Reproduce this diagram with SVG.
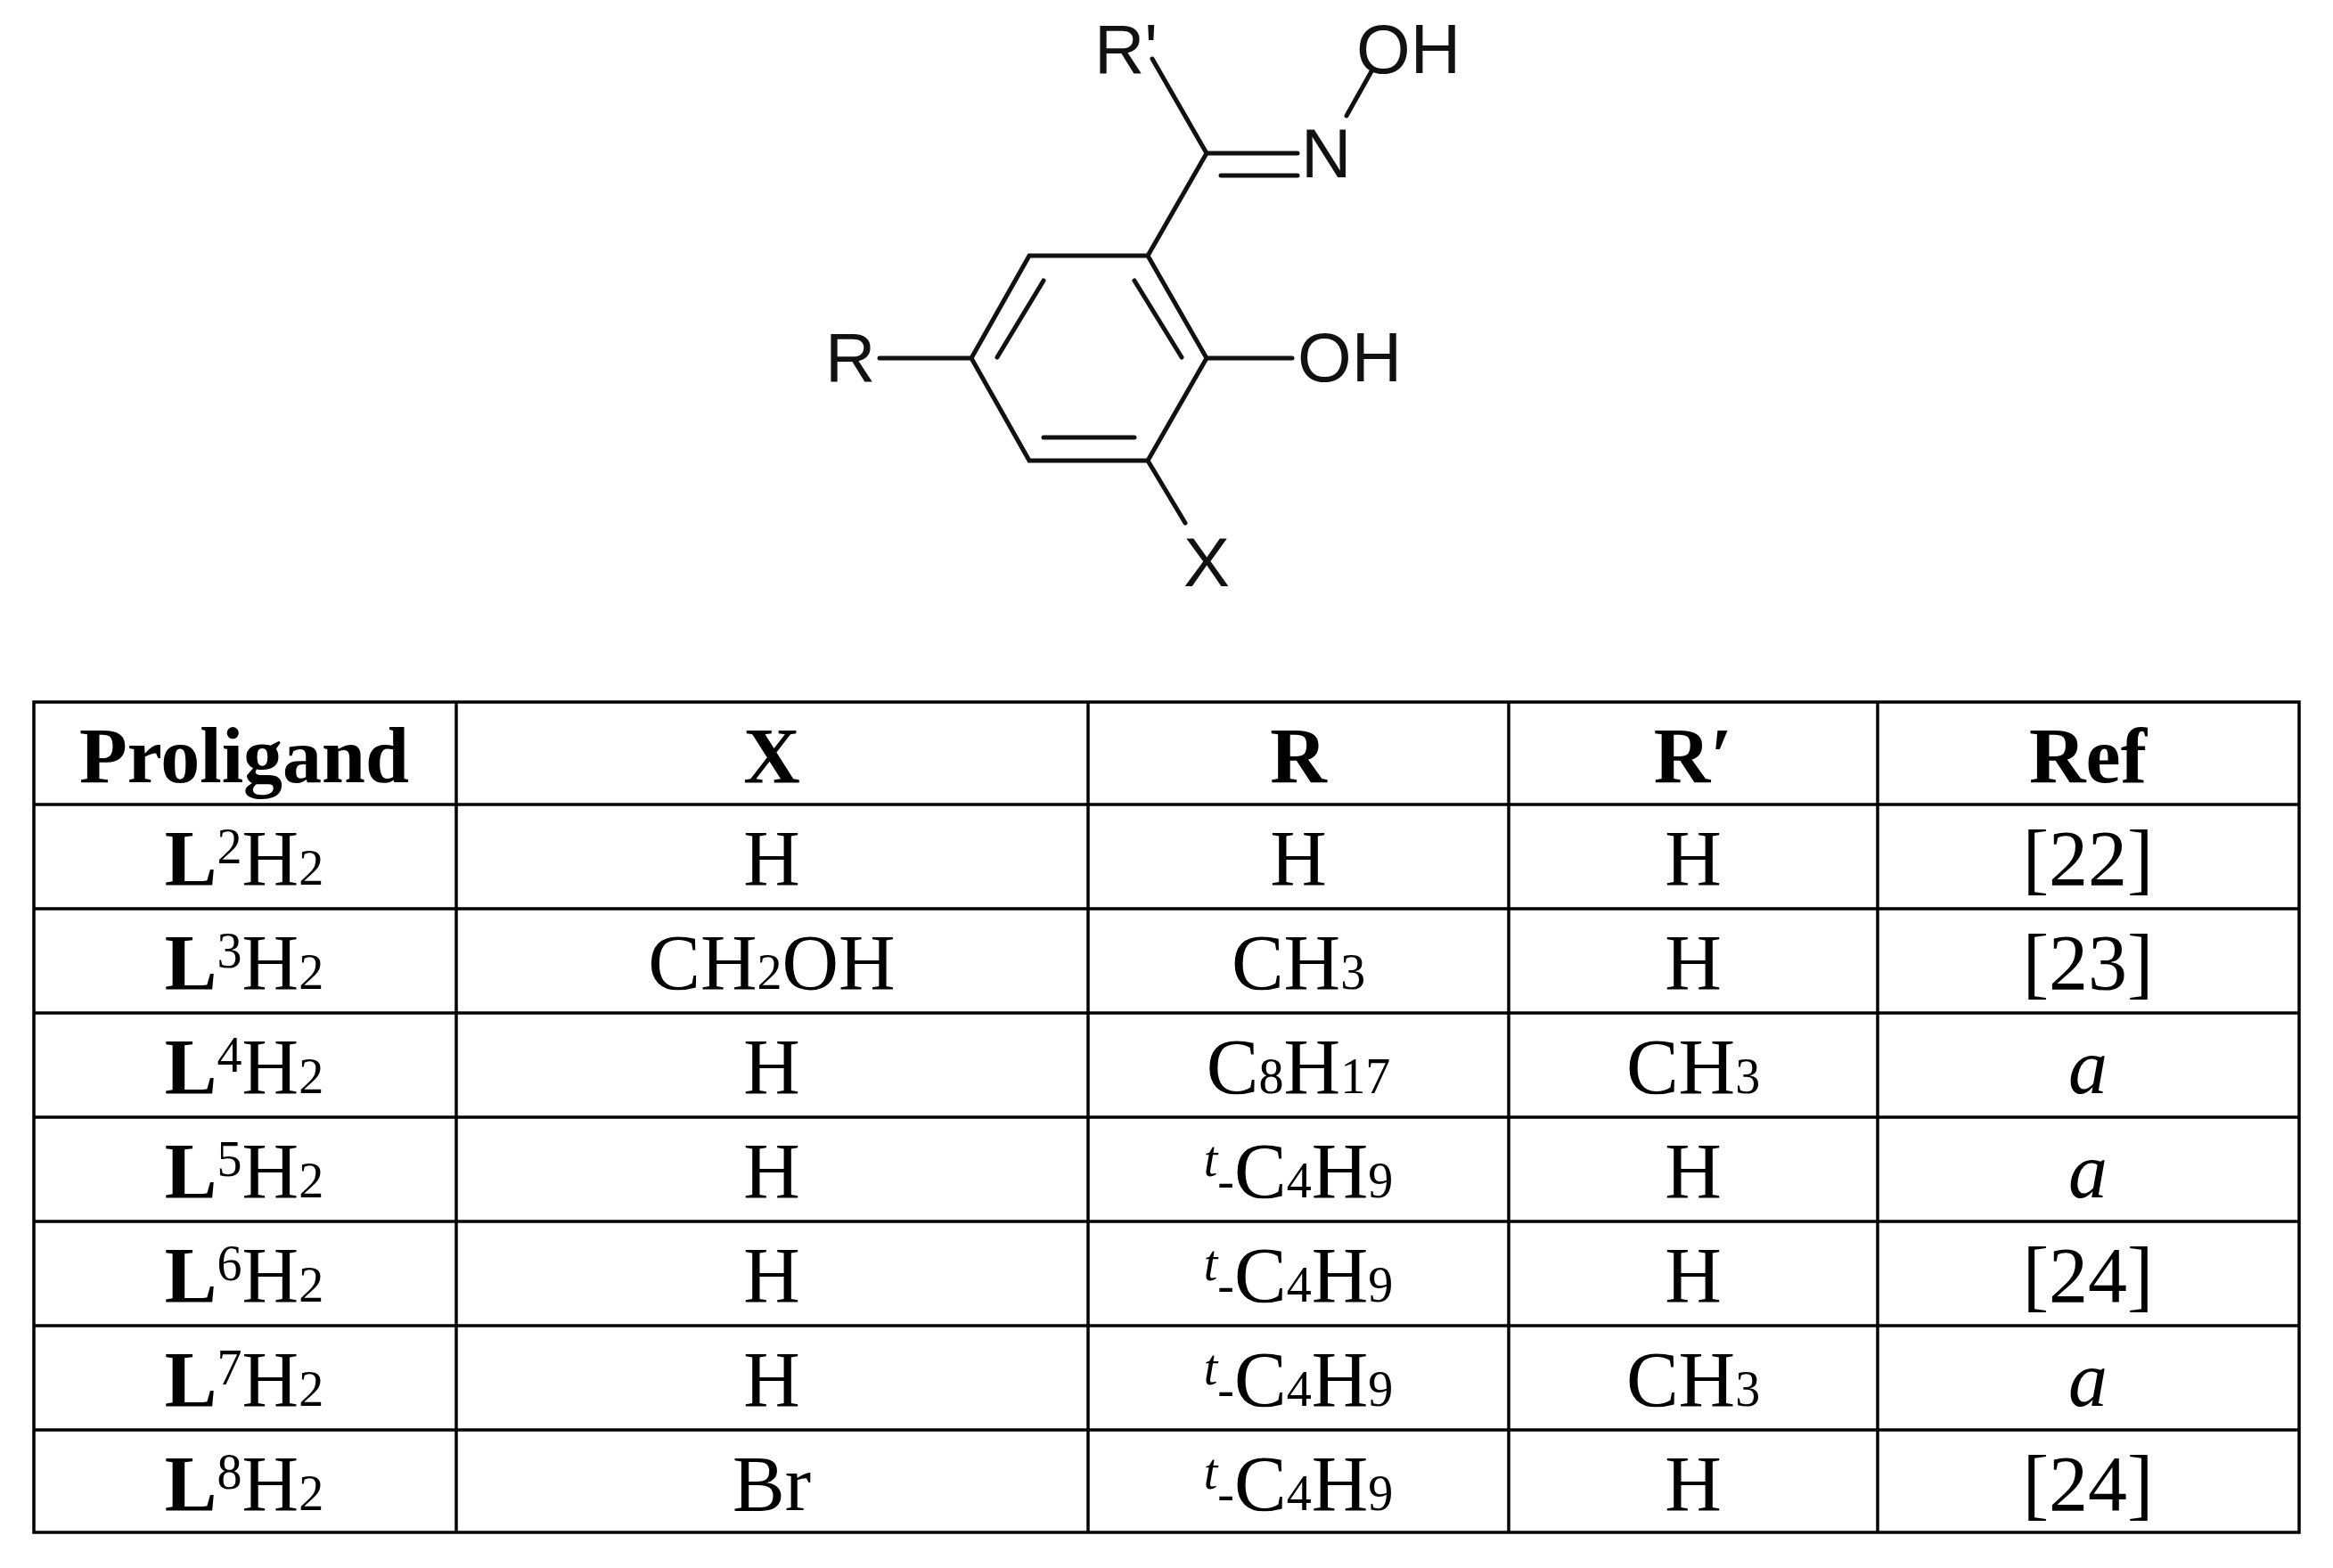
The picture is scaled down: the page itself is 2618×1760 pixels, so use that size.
<svg xmlns="http://www.w3.org/2000/svg" width="2618" height="1760" viewBox="0 0 2618 1760">
<style>
.b{stroke:#111;stroke-width:5;fill:none;stroke-linecap:round}
.a{font-family:"Liberation Sans",Arial,sans-serif;font-size:78px;fill:#111}
.t{font-family:"Liberation Serif","Times New Roman",serif;font-size:88px;fill:#000;text-anchor:middle}
.h{font-weight:bold}
.g{stroke:#000;stroke-width:3.5;fill:none}
.s{font-size:56px}
</style>
<rect width="2618" height="1760" fill="#fff"/>
<g id="molecule">
<g id="bonds">
<polygon class="b" points="1155,287 1288,287 1354,402 1288,517 1155,517 1090,402"/>
<line class="b" x1="1171" y1="315" x2="1119" y2="401"/>
<line class="b" x1="1273" y1="315" x2="1326" y2="401"/>
<line class="b" x1="1171" y1="491" x2="1273" y2="491"/>
<line class="b" x1="1288" y1="287" x2="1354" y2="172"/>
<line class="b" x1="1354" y1="172" x2="1293" y2="66"/>
<line class="b" x1="1354" y1="172" x2="1456" y2="172"/>
<line class="b" x1="1370" y1="197" x2="1456" y2="197"/>
<line class="b" x1="1511" y1="130" x2="1539" y2="80"/>
<line class="b" x1="987" y1="402" x2="1090" y2="402"/>
<line class="b" x1="1354" y1="402" x2="1450" y2="402"/>
<line class="b" x1="1288" y1="517" x2="1330" y2="587"/>
</g>
<text class="a" x="1228" y="82">R'</text>
<text class="a" x="1522" y="82">OH</text>
<text class="a" x="1460" y="199">N</text>
<text class="a" x="926" y="428">R</text>
<text class="a" x="1456" y="428">OH</text>
<text class="a" x="1328" y="658">X</text>
</g>
<g id="table">
<rect class="g" x="38" y="788" width="2542" height="932" stroke-width="4.5"/>
<g class="g">
<line x1="38" y1="903" x2="2580" y2="903"/>
<line x1="38" y1="1020" x2="2580" y2="1020"/>
<line x1="38" y1="1137" x2="2580" y2="1137"/>
<line x1="38" y1="1254" x2="2580" y2="1254"/>
<line x1="38" y1="1371" x2="2580" y2="1371"/>
<line x1="38" y1="1488" x2="2580" y2="1488"/>
<line x1="38" y1="1605" x2="2580" y2="1605"/>
<line x1="512" y1="788" x2="512" y2="1720"/>
<line x1="1221" y1="788" x2="1221" y2="1720"/>
<line x1="1693" y1="788" x2="1693" y2="1720"/>
<line x1="2107" y1="788" x2="2107" y2="1720"/>
</g>
<g class="t h">
<text x="274" y="878">Proligand</text>
<text x="866" y="878">X</text>
<text x="1457" y="878">R</text>
<text x="1900" y="878">R′</text>
<text x="2343" y="878">Ref</text>
</g>
<g class="t">
<text x="274" y="993"><tspan class="h">L</tspan><tspan class="s" dy="-24">2</tspan><tspan dy="24">H</tspan><tspan class="s">2</tspan></text>
<text x="274" y="1110"><tspan class="h">L</tspan><tspan class="s" dy="-24">3</tspan><tspan dy="24">H</tspan><tspan class="s">2</tspan></text>
<text x="274" y="1227"><tspan class="h">L</tspan><tspan class="s" dy="-24">4</tspan><tspan dy="24">H</tspan><tspan class="s">2</tspan></text>
<text x="274" y="1344"><tspan class="h">L</tspan><tspan class="s" dy="-24">5</tspan><tspan dy="24">H</tspan><tspan class="s">2</tspan></text>
<text x="274" y="1461"><tspan class="h">L</tspan><tspan class="s" dy="-24">6</tspan><tspan dy="24">H</tspan><tspan class="s">2</tspan></text>
<text x="274" y="1578"><tspan class="h">L</tspan><tspan class="s" dy="-24">7</tspan><tspan dy="24">H</tspan><tspan class="s">2</tspan></text>
<text x="274" y="1695"><tspan class="h">L</tspan><tspan class="s" dy="-24">8</tspan><tspan dy="24">H</tspan><tspan class="s">2</tspan></text>

<text x="866" y="993">H</text>
<text x="866" y="1110">CH<tspan class="s">2</tspan>OH</text>
<text x="866" y="1227">H</text>
<text x="866" y="1344">H</text>
<text x="866" y="1461">H</text>
<text x="866" y="1578">H</text>
<text x="866" y="1695">Br</text>

<text x="1457" y="993">H</text>
<text x="1457" y="1110">CH<tspan class="s">3</tspan></text>
<text x="1457" y="1227">C<tspan class="s">8</tspan>H<tspan class="s">17</tspan></text>
<text x="1457" y="1344"><tspan class="s" font-style="italic" dy="-24">t</tspan><tspan class="s" dy="24">-</tspan>C<tspan class="s">4</tspan>H<tspan class="s">9</tspan></text>
<text x="1457" y="1461"><tspan class="s" font-style="italic" dy="-24">t</tspan><tspan class="s" dy="24">-</tspan>C<tspan class="s">4</tspan>H<tspan class="s">9</tspan></text>
<text x="1457" y="1578"><tspan class="s" font-style="italic" dy="-24">t</tspan><tspan class="s" dy="24">-</tspan>C<tspan class="s">4</tspan>H<tspan class="s">9</tspan></text>
<text x="1457" y="1695"><tspan class="s" font-style="italic" dy="-24">t</tspan><tspan class="s" dy="24">-</tspan>C<tspan class="s">4</tspan>H<tspan class="s">9</tspan></text>

<text x="1900" y="993">H</text>
<text x="1900" y="1110">H</text>
<text x="1900" y="1227">CH<tspan class="s">3</tspan></text>
<text x="1900" y="1344">H</text>
<text x="1900" y="1461">H</text>
<text x="1900" y="1578">CH<tspan class="s">3</tspan></text>
<text x="1900" y="1695">H</text>

<text x="2343" y="993">[22]</text>
<text x="2343" y="1110">[23]</text>
<text x="2343" y="1227" font-style="italic">a</text>
<text x="2343" y="1344" font-style="italic">a</text>
<text x="2343" y="1461">[24]</text>
<text x="2343" y="1578" font-style="italic">a</text>
<text x="2343" y="1695">[24]</text>
</g>
</g>
</svg>
